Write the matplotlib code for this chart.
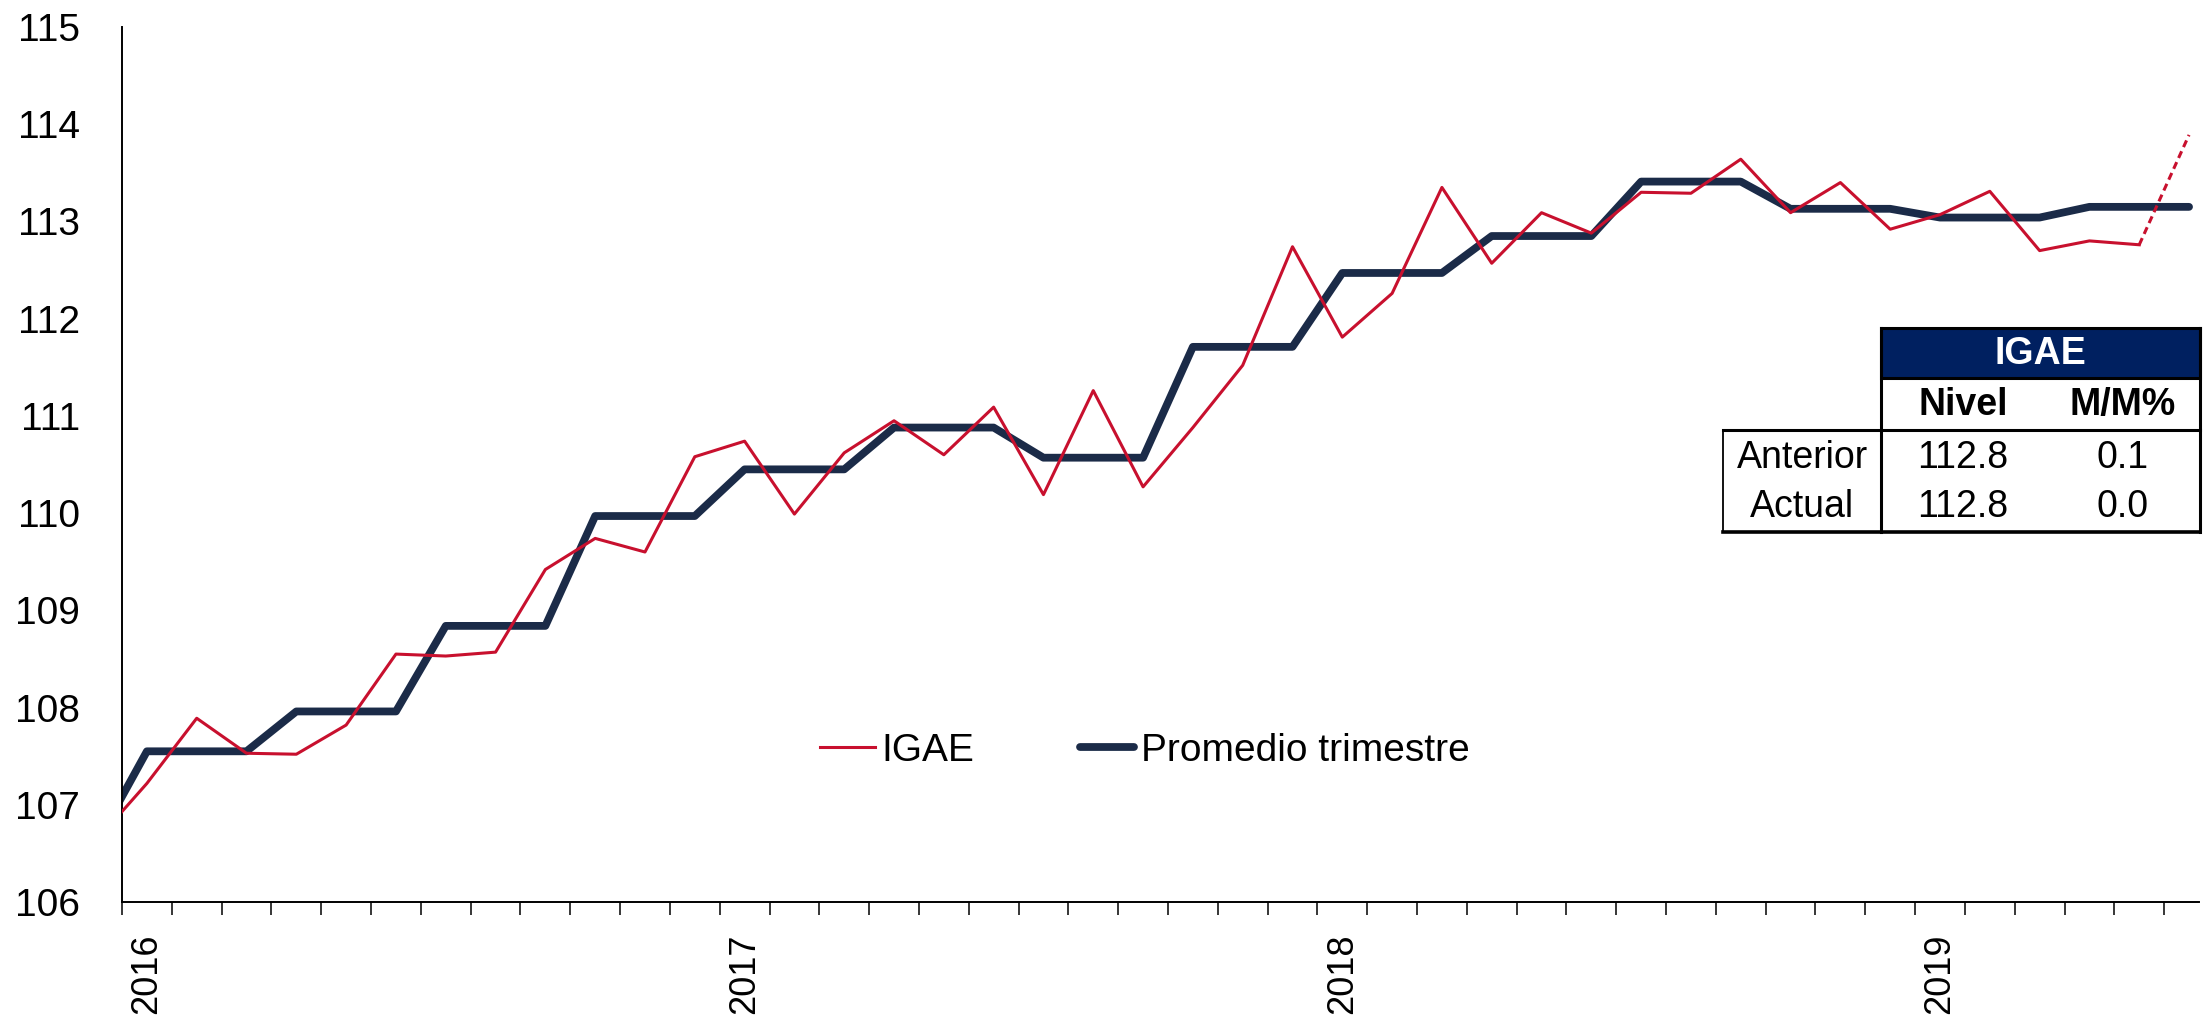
import numpy as np
import matplotlib
matplotlib.use('Agg')
import matplotlib.pyplot as plt
from matplotlib.patches import Rectangle

plt.rcParams['font.family'] = ['Liberation Sans', 'DejaVu Sans']

# monthly data, Dec 2015 .. Jun 2019 (last IGAE month is an estimate -> dashed)
igae = [106.64,
        107.22, 107.89, 107.53, 107.52, 107.82, 108.55, 108.53, 108.57, 109.42, 109.74, 109.60, 110.58,
        110.74, 109.99, 110.62, 110.95, 110.60, 111.09, 110.19, 111.26, 110.27, 110.88, 111.52, 112.74,
        111.81, 112.26, 113.35, 112.57, 113.09, 112.88, 113.30, 113.29, 113.64, 113.09, 113.40, 112.92,
        113.07, 113.31, 112.70, 112.80, 112.76, 113.89]
promedio = [106.62,
            107.55, 107.55, 107.55, 107.96, 107.96, 107.96, 108.84, 108.84, 108.84, 109.97, 109.97, 109.97,
            110.45, 110.45, 110.45, 110.88, 110.88, 110.88, 110.57, 110.57, 110.57, 111.71, 111.71, 111.71,
            112.47, 112.47, 112.47, 112.85, 112.85, 112.85, 113.41, 113.41, 113.41, 113.13, 113.13, 113.13,
            113.04, 113.04, 113.04, 113.15, 113.15, 113.15]
year_labels = ['2016', '2017', '2018', '2019']

table_title = 'IGAE'
table_cols = ['Nivel', 'M/M%']
table_rows = ['Anterior', 'Actual']
table_nivel = [112.8, 112.8]
table_mm = [0.1, 0.0]

RED = '#C8102E'
NAVY = '#1B2B48'

W, H = 2203, 1018
fig = plt.figure(figsize=(W / 100, H / 100), dpi=100)
ax = fig.add_axes([122 / W, (H - 902) / H, (2199 - 122) / W, (902 - 27) / H])

x = np.arange(len(igae)) - 0.5
n_est = 1  # last point is estimate

ax.plot(x, promedio, color=NAVY, lw=5.6, solid_capstyle='round', solid_joinstyle='round',
        label='Promedio trimestre', zorder=2)
ax.plot(x[:-n_est], igae[:-n_est], color=RED, lw=2.2, label='IGAE', zorder=3)
ax.plot(x[-n_est - 1:], igae[-n_est - 1:], color=RED, lw=2.2, dashes=(2.4, 1.5), zorder=3)

ax.set_xlim(0, 41.7)
ax.set_ylim(106, 115)
ax.set_yticks(np.arange(106, 116, 1))
ax.tick_params(axis='y', length=0, pad=30, labelsize=28)

ax.set_xticks(np.arange(0, 42), minor=True)
ax.set_xticks([0.5 + 12 * k for k in range(len(year_labels))])
ax.set_xticklabels(year_labels, rotation=90, va='top', ha='center')
ax.tick_params(axis='x', which='major', length=0, pad=23, labelsize=26)
ax.tick_params(axis='x', which='minor', length=9.5, width=1.1, direction='out')

for s in ['top', 'right']:
    ax.spines[s].set_visible(False)
for s in ['left', 'bottom']:
    ax.spines[s].set_linewidth(1.4)

h, l = ax.get_legend_handles_labels()
order = [1, 0]
fig.legend([h[i] for i in order], [l[i] for i in order], loc='center',
           bbox_to_anchor=(1145 / W, 1 - 751 / H), ncol=2, frameon=False,
           fontsize=28, handlelength=1.4, handletextpad=0.18, columnspacing=2.7)

# summary table drawn in pixel coordinates
tax = fig.add_axes([0, 0, 1, 1])
tax.set_xlim(0, W)
tax.set_ylim(H, 0)
tax.axis('off')

L, C1, R = 1723, 1881, 2200
T, H1, H2, B = 328, 378, 430, 532
tax.add_patch(Rectangle((C1, T), R - C1, H1 - T, facecolor='#002060', edgecolor='black', lw=2.2))
tax.plot([C1, C1], [T, B], color='black', lw=2.2)
tax.plot([R, R], [T, B], color='black', lw=2.2)
tax.plot([L, R], [H2, H2], color='black', lw=2.2)
tax.plot([L, R], [B, B], color='black', lw=2.6)
tax.plot([L, L], [H2, B], color='black', lw=1.3)

tax.text((C1 + R) / 2, (T + H1) / 2 + 1, table_title, color='white', fontsize=27,
         fontweight='bold', ha='center', va='center')
col_x = [1963, 2123]
for cx, c in zip(col_x, table_cols):
    tax.text(cx, (H1 + H2) / 2 + 1, c, fontsize=27, fontweight='bold', ha='center', va='center')
row_y = [458, 507]
for ry, r, nv, mm in zip(row_y, table_rows, table_nivel, table_mm):
    tax.text((L + C1) / 2, ry, r, fontsize=27, ha='center', va='center')
    tax.text(col_x[0], ry, f'{nv:.1f}', fontsize=27, ha='center', va='center')
    tax.text(col_x[1], ry, f'{mm:.1f}', fontsize=27, ha='center', va='center')

fig.savefig('out.png', dpi=100)
